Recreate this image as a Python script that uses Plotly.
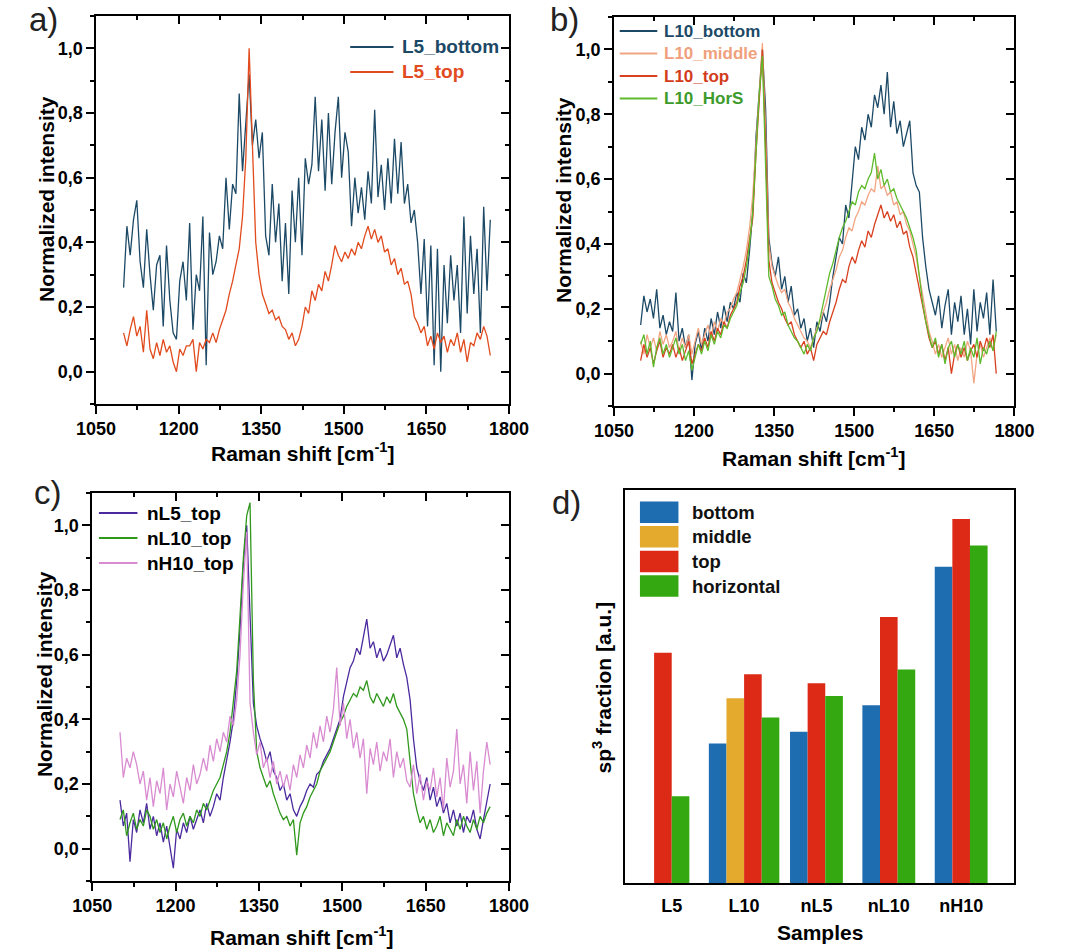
import numpy as np
import plotly.graph_objects as go

W, H = 1071, 949
FONT = "Liberation Sans, Arial, Helvetica, sans-serif"

# ---------------------------------------------------------------- data
# Raman shift grid of the measured spectra (cm-1)
raman_shift = np.arange(1100, 1767, 6)

# a) L5 samples
l5_bottom = [
    0.26, 0.45, 0.36, 0.47, 0.53, 0.34, 0.26, 0.44, 0.30, 0.19,
    0.33, 0.36, 0.14, 0.39, 0.22, 0.12, 0.10, 0.28, 0.34, 0.22,
    0.46, 0.13, 0.30, 0.25, 0.48, 0.02, 0.43, 0.30, 0.34, 0.42,
    0.38, 0.60, 0.44, 0.58, 0.55, 0.86, 0.62, 0.77, 0.92, 0.70,
    0.78, 0.66, 0.74, 0.42, 0.36, 0.58, 0.40, 0.52, 0.28, 0.46,
    0.24, 0.56, 0.40, 0.60, 0.36, 0.66, 0.58, 0.64, 0.85, 0.62,
    0.78, 0.56, 0.80, 0.58, 0.74, 0.85, 0.60, 0.74, 0.68, 0.45,
    0.60, 0.49, 0.57, 0.47, 0.62, 0.52, 0.81, 0.54, 0.64, 0.50,
    0.66, 0.52, 0.72, 0.55, 0.71, 0.52, 0.58, 0.46, 0.50, 0.40,
    0.24, 0.41, 0.14, 0.39, 0.02, 0.38, 0.00, 0.33, 0.15, 0.36,
    0.22, 0.33, 0.12, 0.48, 0.18, 0.42, 0.24, 0.38, 0.12, 0.51,
    0.25, 0.47,
]
l5_top = [
    0.12, 0.08, 0.13, 0.17, 0.11, 0.14, 0.06, 0.19, 0.07, 0.04,
    0.09, 0.05, 0.10, 0.06, 0.08, 0.03, 0.00, 0.07, 0.05, 0.08,
    0.08, 0.10, 0.00, 0.09, 0.07, 0.10, 0.09, 0.12, 0.09, 0.13,
    0.16, 0.19, 0.24, 0.28, 0.33, 0.38, 0.48, 0.66, 1.00, 0.72,
    0.40, 0.30, 0.24, 0.21, 0.18, 0.19, 0.16, 0.17, 0.14, 0.13,
    0.10, 0.12, 0.08, 0.10, 0.14, 0.20, 0.18, 0.25, 0.22, 0.27,
    0.25, 0.31, 0.28, 0.33, 0.39, 0.36, 0.34, 0.37, 0.35, 0.38,
    0.36, 0.40, 0.38, 0.42, 0.45, 0.41, 0.44, 0.40, 0.42, 0.37,
    0.38, 0.33, 0.35, 0.30, 0.32, 0.27, 0.28, 0.24, 0.17, 0.15,
    0.12, 0.14, 0.08, 0.11, 0.07, 0.12, 0.09, 0.11, 0.06, 0.10,
    0.08, 0.12, 0.06, 0.10, 0.03, 0.09, 0.08, 0.12, 0.10, 0.14,
    0.11, 0.05,
]

# b) L10 samples
l10_bottom = [
    0.15, 0.24, 0.19, 0.23, 0.17, 0.26, 0.14, 0.18, 0.12, 0.16,
    0.13, 0.25, 0.10, 0.14, 0.08, 0.12, -0.02, 0.09, 0.13, 0.07,
    0.14, 0.10, 0.17, 0.12, 0.19, 0.14, 0.21, 0.16, 0.22, 0.20,
    0.25, 0.22, 0.31, 0.28, 0.38, 0.50, 0.73, 0.86, 1.00, 0.82,
    0.42, 0.34, 0.30, 0.36, 0.26, 0.30, 0.22, 0.27, 0.18, 0.20,
    0.14, 0.17, 0.10, 0.14, 0.08, 0.16, 0.13, 0.19, 0.16, 0.22,
    0.30, 0.36, 0.42, 0.40, 0.52, 0.48, 0.60, 0.70, 0.66, 0.76,
    0.72, 0.80, 0.76, 0.86, 0.82, 0.89, 0.80, 0.93, 0.76, 0.84,
    0.74, 0.78, 0.70, 0.74, 0.78, 0.62, 0.58, 0.56, 0.42, 0.33,
    0.26, 0.22, 0.18, 0.24, 0.14, 0.21, 0.26, 0.12, 0.22, 0.16,
    0.24, 0.12, 0.20, 0.09, 0.26, 0.13, 0.22, 0.17, 0.25, 0.12,
    0.29, 0.13,
]
l10_middle = [
    0.10, 0.06, 0.12, 0.08, 0.11, 0.07, 0.13, 0.09, 0.12, 0.08,
    0.10, 0.13, 0.07, 0.11, 0.08, 0.12, 0.06, 0.10, 0.14, 0.09,
    0.12, 0.15, 0.11, 0.16, 0.13, 0.17, 0.15, 0.19, 0.20, 0.23,
    0.25, 0.29, 0.33, 0.38, 0.45, 0.55, 0.70, 0.88, 1.02, 0.75,
    0.40, 0.33, 0.30, 0.27, 0.25, 0.26, 0.22, 0.20, 0.17, 0.15,
    0.13, 0.11, 0.10, 0.08, 0.11, 0.14, 0.16, 0.19, 0.22, 0.26,
    0.29, 0.32, 0.36, 0.38, 0.42, 0.45, 0.44, 0.48, 0.50, 0.53,
    0.52, 0.55, 0.57, 0.56, 0.64, 0.57, 0.58, 0.55, 0.56, 0.52,
    0.53, 0.49, 0.50, 0.46, 0.44, 0.40, 0.36, 0.30, 0.24, 0.18,
    0.13, 0.10, 0.06, 0.09, 0.05, 0.08, 0.11, 0.06, 0.09, 0.04,
    0.08, 0.05, 0.10, 0.07, -0.03, 0.06, 0.09, 0.05, 0.08, 0.11,
    0.07, 0.12,
]
l10_top = [
    0.04, 0.09, 0.05, 0.08, 0.03, 0.07, 0.10, 0.05, 0.08, 0.06,
    0.09, 0.05, 0.08, 0.04, 0.07, 0.10, 0.03, 0.06, 0.09, 0.07,
    0.11, 0.08, 0.13, 0.10, 0.14, 0.12, 0.16, 0.14, 0.18, 0.20,
    0.22, 0.27, 0.30, 0.35, 0.42, 0.48, 0.68, 0.85, 1.00, 0.70,
    0.35, 0.28, 0.25, 0.22, 0.20, 0.17, 0.15, 0.16, 0.12, 0.10,
    0.08, 0.10, 0.06, 0.08, 0.04, 0.09, 0.11, 0.13, 0.12, 0.16,
    0.19, 0.22, 0.26, 0.29, 0.28, 0.33, 0.36, 0.34, 0.38, 0.41,
    0.39, 0.44, 0.42, 0.46, 0.49, 0.52, 0.48, 0.50, 0.47, 0.49,
    0.45, 0.47, 0.43, 0.44, 0.39, 0.36, 0.31, 0.26, 0.20, 0.15,
    0.11, 0.08, 0.10, 0.06, 0.09, 0.04, 0.08, 0.00, 0.06, 0.09,
    0.05, 0.08, 0.04, 0.07, 0.09, 0.05, 0.10, 0.07, 0.11, 0.08,
    0.12, 0.00,
]
l10_hors = [
    0.09, 0.12, 0.06, 0.10, 0.02, 0.08, 0.11, 0.06, 0.09, 0.05,
    0.08, 0.11, 0.06, 0.09, 0.04, 0.07, 0.01, 0.05, 0.09, 0.06,
    0.10, 0.07, 0.12, 0.09, 0.13, 0.11, 0.15, 0.14, 0.17, 0.19,
    0.21, 0.25, 0.28, 0.33, 0.40, 0.50, 0.70, 0.86, 0.98, 0.66,
    0.30, 0.27, 0.23, 0.21, 0.18, 0.19, 0.15, 0.13, 0.11, 0.10,
    0.08, 0.06, 0.09, 0.07, 0.11, 0.13, 0.17, 0.22, 0.26, 0.31,
    0.34, 0.38, 0.42, 0.45, 0.47, 0.50, 0.53, 0.52, 0.56, 0.58,
    0.57, 0.60, 0.62, 0.68, 0.60, 0.63, 0.58, 0.60, 0.56, 0.57,
    0.54, 0.52, 0.50, 0.48, 0.45, 0.42, 0.38, 0.30, 0.22, 0.16,
    0.12, 0.08, 0.11, 0.05, 0.09, 0.03, 0.08, 0.10, 0.05, 0.09,
    0.06, 0.10, 0.04, 0.08, 0.05, 0.11, 0.03, 0.08, 0.06, 0.10,
    0.07, 0.13,
]

# c) top layers of the n-series
nl5_top = [
    0.15, 0.07, 0.11, -0.04, 0.09, 0.05, 0.12, 0.08, 0.14, 0.06,
    0.10, 0.04, 0.08, 0.02, 0.07, 0.01, -0.06, 0.06, 0.03, 0.08,
    0.05, 0.10, 0.06, 0.09, 0.12, 0.08, 0.14, 0.10, 0.13, 0.17,
    0.15, 0.22, 0.27, 0.33, 0.40, 0.52, 0.68, 0.88, 1.00, 0.70,
    0.45, 0.38, 0.34, 0.31, 0.27, 0.30, 0.24, 0.22, 0.18, 0.20,
    0.15, 0.17, 0.12, 0.10, 0.13, 0.15, 0.18, 0.20, 0.19, 0.23,
    0.24, 0.27, 0.29, 0.31, 0.34, 0.37, 0.40, 0.47, 0.52, 0.56,
    0.58, 0.62, 0.60, 0.66, 0.71, 0.62, 0.64, 0.59, 0.62, 0.58,
    0.60, 0.63, 0.66, 0.59, 0.62, 0.57, 0.53, 0.46, 0.34, 0.25,
    0.21, 0.18, 0.22, 0.15, 0.19, 0.13, 0.16, 0.11, 0.14, 0.08,
    0.12, 0.07, 0.11, 0.05, 0.10, 0.08, 0.12, 0.06, 0.03, 0.09,
    0.14, 0.20,
]
nl10_top = [
    0.09, 0.12, 0.04, 0.08, 0.11, 0.06, 0.09, 0.07, 0.12, 0.10,
    0.06, 0.09, 0.05, 0.08, 0.03, 0.07, 0.10, 0.05, 0.09, 0.11,
    0.07, 0.10, 0.08, 0.12, 0.10, 0.14, 0.12, 0.15, 0.18, 0.20,
    0.22, 0.26, 0.30, 0.36, 0.45, 0.55, 0.72, 0.90, 1.03, 1.07,
    0.52, 0.30, 0.25, 0.22, 0.19, 0.21, 0.17, 0.14, 0.11, 0.09,
    0.10, 0.07, 0.09, -0.02, 0.08, 0.11, 0.13, 0.16, 0.18, 0.20,
    0.24, 0.26, 0.28, 0.30, 0.33, 0.36, 0.39, 0.41, 0.44, 0.46,
    0.48, 0.47, 0.50, 0.49, 0.52, 0.47, 0.45, 0.48, 0.46, 0.44,
    0.47, 0.45, 0.48, 0.44, 0.42, 0.40, 0.37, 0.28, 0.17, 0.12,
    0.08, 0.10, 0.06, 0.09, 0.05, 0.07, 0.10, 0.04, 0.08, 0.06,
    0.04, 0.09, 0.06, 0.10, 0.07, 0.05, 0.09, 0.06, 0.10, 0.08,
    0.11, 0.13,
]
nh10_top = [
    0.36, 0.22, 0.28, 0.25, 0.30, 0.26, 0.20, 0.24, 0.15, 0.22,
    0.13, 0.21, 0.17, 0.25, 0.12, 0.20, 0.16, 0.24, 0.19, 0.14,
    0.22, 0.18, 0.26, 0.20, 0.23, 0.28, 0.24, 0.32, 0.27, 0.34,
    0.30, 0.36, 0.33, 0.41, 0.38, 0.46, 0.60, 0.82, 0.98, 0.45,
    0.36, 0.29, 0.33, 0.25, 0.28, 0.22, 0.27, 0.20, 0.24, 0.19,
    0.23, 0.18, 0.26, 0.22, 0.29, 0.25, 0.32, 0.28, 0.36, 0.31,
    0.38, 0.33, 0.41, 0.36, 0.43, 0.56, 0.38, 0.45, 0.34, 0.40,
    0.31, 0.36, 0.28, 0.34, 0.17, 0.31, 0.26, 0.33, 0.24, 0.30,
    0.27, 0.34, 0.22, 0.30, 0.25, 0.28, 0.21, 0.19, 0.26, 0.17,
    0.23, 0.15, 0.21, 0.18, 0.25, 0.16, 0.22, 0.12, 0.28, 0.19,
    0.24, 0.37, 0.20, 0.26, 0.14, 0.30, 0.18, 0.27, 0.11, 0.24,
    0.33, 0.26,
]

# d) sp3 fraction per sample and position (None = not measured)
samples = ["L5", "L10", "nL5", "nL10", "nH10"]
sp3_bottom = [None, 0.355, 0.385, 0.452, 0.805]
sp3_middle = [None, 0.470, None, None, None]
sp3_top = [0.586, 0.531, 0.508, 0.677, 0.926]
sp3_horizontal = [0.221, 0.421, 0.476, 0.543, 0.859]

y_ticks = [0.0, 0.2, 0.4, 0.6, 0.8, 1.0]


# ---------------------------------------------------------------- helpers
def fx(px):
    return px / W


def fy(py):
    return 1 - py / H


TEAL = "#1c4966"
spectra = {
    "a": [("L5_bottom", l5_bottom, TEAL, TEAL),
          ("L5_top", l5_top, "#e14b1d", "#e14b1d")],
    "b": [("L10_bottom", l10_bottom, TEAL, TEAL),
          ("L10_middle", l10_middle, "#f2a582", "#f0a07c"),
          ("L10_top", l10_top, "#d8401f", "#d23c1c"),
          ("L10_HorS", l10_hors, "#5fba2c", "#3c9b2b")],
    "c": [("nL5_top", nl5_top, "#4a2a9e", "black"),
          ("nL10_top", nl10_top, "#2f981d", "black"),
          ("nH10_top", nh10_top, "#d98bd1", "black")],
}

boxes = {  # plot areas in pixels: (left, right), (top, bottom)
    "a": ((79, 508), (16, 404)),
    "b": ((617, 1033), (17, 406)),
    "c": ((75, 508), (493, 881)),
    "d": ((628, 1033), (490, 883)),
}
axis_ids = {"a": "", "b": "2", "c": "3", "d": "4"}
mirror_ids = {"a": "5", "b": "6", "c": "7"}

# legend placement per panel: line start/end, text start, first row, row pitch, font size
legend_geom = {
    "a": (343, 388, 395, 47, 25, 19),
    "b": (623, 662, 667, 31, 22.5, 17),
    "c": (82, 122, 130, 513, 25, 19),
}

fig = go.Figure()

tick_font = dict(family=FONT, size=18, color="black", weight="bold")
frame = dict(showline=True, linewidth=1.5, linecolor="black", mirror=True,
             showgrid=False, zeroline=False)

layout = {}
shapes = []
annotations = []
for key, series in spectra.items():
    n = axis_ids[key]
    (l, r), (t, b) = boxes[key]
    xa, ya = "x" + n, "y" + n
    lx0, lx1, tx, ry0, pitch, fsize = legend_geom[key]
    for k, (name, vals, color, text_color) in enumerate(series):
        fig.add_trace(go.Scatter(
            x=raman_shift, y=vals, mode="lines",
            line=dict(color=color, width=1.3), name=name,
            xaxis=xa, yaxis=ya, showlegend=False, hoverinfo="skip"))
        ry = ry0 + k * pitch
        shapes.append(dict(type="line", xref="paper", yref="paper",
                           x0=fx(lx0), x1=fx(lx1), y0=fy(ry), y1=fy(ry),
                           line=dict(color=color, width=1.8)))
        annotations.append(dict(x=fx(tx), y=fy(ry), xref="paper", yref="paper",
                                text=name, showarrow=False, xanchor="left",
                                yanchor="middle",
                                font=dict(family=FONT, size=fsize,
                                          color=text_color, weight="bold")))

    layout["xaxis" + n] = dict(
        domain=[fx(l), fx(r)], anchor=ya, range=[1050, 1800],
        tick0=1050, dtick=150, ticks="outside", ticklen=8, tickwidth=1.5,
        tickcolor="black",
        minor=dict(ticks="outside", ticklen=4, tickwidth=1.5, tick0=1050,
                   dtick=75, tickcolor="black"),
        tickfont=tick_font, **frame)
    layout["yaxis" + n] = dict(
        domain=[fy(b), fy(t)], anchor=xa, range=[-0.1, 1.1],
        tickvals=y_ticks, tickformat=".1f", ticks="outside", ticklen=8,
        tickwidth=1.5, tickcolor="black",
        minor=dict(ticks="outside", ticklen=4, tickwidth=1.5, tick0=0,
                   dtick=0.1, tickcolor="black"),
        tickfont=tick_font, **frame)

    # inward ticks along the top and right edges
    m = mirror_ids[key]
    layout["xaxis" + m] = dict(
        overlaying=xa, side="top", anchor=ya, range=[1050, 1800],
        tick0=1050, dtick=150, ticks="inside", ticklen=8, tickwidth=1.5,
        tickcolor="black",
        minor=dict(ticks="inside", ticklen=4, tickwidth=1.5, tick0=1050,
                   dtick=75, tickcolor="black"),
        showticklabels=False, showline=False, showgrid=False, zeroline=False)
    layout["yaxis" + m] = dict(
        overlaying=ya, side="right", anchor=xa, range=[-0.1, 1.1],
        tickvals=y_ticks, ticks="inside", ticklen=8, tickwidth=1.5,
        tickcolor="black",
        minor=dict(ticks="inside", ticklen=4, tickwidth=1.5, tick0=0,
                   dtick=0.1, tickcolor="black"),
        showticklabels=False, showline=False, showgrid=False, zeroline=False)
    fig.add_trace(go.Scatter(x=[None], y=[None], xaxis="x" + m, yaxis=ya,
                             showlegend=False, hoverinfo="skip"))
    fig.add_trace(go.Scatter(x=[None], y=[None], xaxis=xa, yaxis="y" + m,
                             showlegend=False, hoverinfo="skip"))

# ---------------------------------------------------------------- bars (d)
bar_series = [("bottom", sp3_bottom, "#1f6db1"),
              ("middle", sp3_middle, "#e3aa2d"),
              ("top", sp3_top, "#dc2a17"),
              ("horizontal", sp3_horizontal, "#33a810")]
bar_w = 0.2435
pos = {name: ([], []) for name, _, _ in bar_series}
for g in range(len(samples)):
    present = [(name, vals[g]) for name, vals, _ in bar_series if vals[g] is not None]
    k = len(present)
    for j, (name, v) in enumerate(present):
        pos[name][0].append(g + (j - (k - 1) / 2) * bar_w)
        pos[name][1].append(v)
for name, _, color in bar_series:
    fig.add_trace(go.Bar(x=pos[name][0], y=pos[name][1], width=bar_w,
                         marker=dict(color=color, line=dict(width=0)),
                         name=name, showlegend=False, xaxis="x4", yaxis="y4",
                         hoverinfo="skip"))

(l, r), (t, b) = boxes["d"]
layout["xaxis4"] = dict(domain=[fx(l), fx(r)], anchor="y4",
                        range=[-0.652, 4.736], tickvals=list(range(len(samples))),
                        ticktext=samples, ticks="", ticklabelstandoff=6,
                        tickfont=dict(family=FONT, size=18, color="black",
                                      weight="bold"), **frame)
layout["yaxis4"] = dict(domain=[fy(b), fy(t)], anchor="x4", range=[0, 1.0],
                        showticklabels=False, ticks="", **frame)

# legend of the bar panel: colour swatches with labels
sw_left, sw_w, sw_top, sw_h, sw_pitch = 644, 40, 501.5, 21.5, 24.6
for k, (name, _, color) in enumerate(bar_series):
    y0 = sw_top + k * sw_pitch
    shapes.append(dict(type="rect", xref="paper", yref="paper",
                       x0=fx(sw_left), x1=fx(sw_left + sw_w),
                       y0=fy(y0 + sw_h), y1=fy(y0),
                       fillcolor=color, line=dict(width=0)))
    annotations.append(dict(x=fx(696), y=fy(y0 + sw_h / 2), xref="paper",
                            yref="paper", text=name, showarrow=False,
                            xanchor="left", yanchor="middle",
                            font=dict(family=FONT, size=18.5, color="#111111",
                                      weight="bold")))

# ---------------------------------------------------------------- titles
title_font = dict(family=FONT, size=21, color="black", weight="bold")
raman_title = "Raman shift [cm<sup>-1</sup>]"
titles = [
    (27, 199, "Normalized intensity", -90),
    (293, 452, raman_title, 0),
    (565, 200, "Normalized intensity", -90),
    (824, 457, raman_title, 0),
    (25, 674, "Normalized intensity", -90),
    (292, 936, raman_title, 0),
    (605, 687, "sp<sup>3</sup> fraction [a.u.]", -90),
    (831, 932, "Samples", 0),
]
for px, py, text, ang in titles:
    annotations.append(dict(x=fx(px), y=fy(py), xref="paper", yref="paper",
                            text=text, textangle=ang, showarrow=False,
                            xanchor="center", yanchor="middle",
                            font=title_font))

for px, py, text in [(24, 20, "a)"), (566, 20, "b)"), (29, 492, "c)"),
                     (568, 502, "d)")]:
    annotations.append(dict(x=fx(px), y=fy(py), xref="paper", yref="paper",
                            text=text, showarrow=False, xanchor="center",
                            yanchor="middle",
                            font=dict(family=FONT, size=33, color="#222222")))

fig.update_layout(
    width=W, height=H, margin=dict(l=0, r=0, t=0, b=0),
    paper_bgcolor="white", plot_bgcolor="white", separators=",.",
    barmode="overlay", shapes=shapes, annotations=annotations,
    showlegend=False, font=dict(family=FONT, color="black"),
    **layout)

fig.write_html("out.html")
